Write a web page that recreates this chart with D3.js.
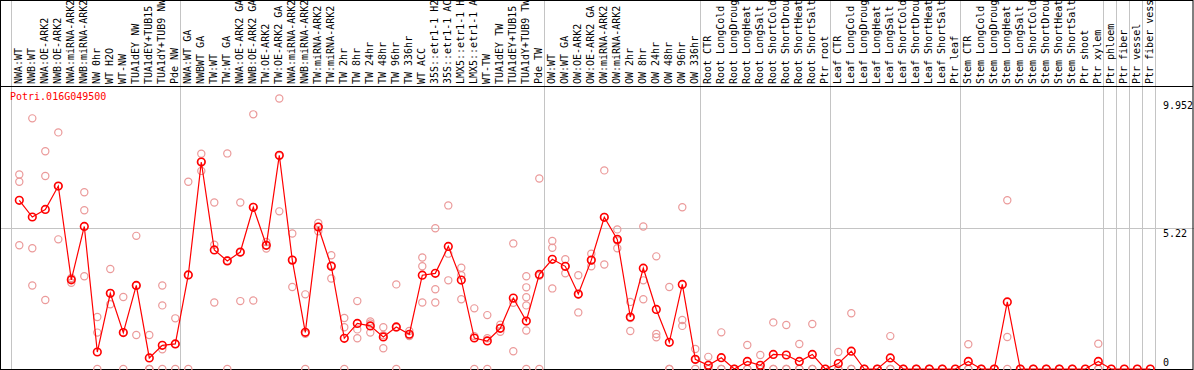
<!DOCTYPE html>
<html>
<head>
<meta charset="utf-8">
<script src="https://cdn.jsdelivr.net/npm/d3@7"></script>
<style>
  body { margin: 0; background: #fff; }
  text { font-family: "DejaVu Sans Mono", monospace; font-size: 10px; }
</style>
</head>
<body>
<div id="chart"></div>
<script>

var title = "Potri.016G049500"

var categories = [
  "NWA:WT", "NWB:WT", "NWA:OE-ARK2", "NWB:OE-ARK2", "NWA:miRNA-ARK2", "NWB:miRNA-ARK2",
  "NW 0hr", "WT H2O", "WT-NW", "TUA1dEY NW", "TUA1dEY+TUB15 NW", "TUA1dY+TUB9 NW", "Pde NW",
  "NWA:WT GA", "NWBWT GA", "TW:WT", "TW:WT GA", "NWA:OE-ARK2 GA", "NWB:OE-ARK2 GA",
  "TW:OE-ARK2", "TW:OE-ARK2 GA", "NWA:miRNA-ARK2 GA", "NWB:miRNA-ARK2 GA", "TW:miRNA-ARK2",
  "TW:miRNA-ARK2 GA", "TW 2hr", "TW 8hr", "TW 24hr", "TW 48hr", "TW 96hr", "TW 336hr",
  "WT ACC", "35S::etr1-1 H2O", "35S::etr1-1 ACC", "LMX5::etr1-1 H2O", "LMX5::etr1-1 ACC",
  "WT-TW", "TUA1dEY TW", "TUA1dEY+TUB15 TW", "TUA1dY+TUB9 TW", "Pde TW",
  "OW:WT", "OW:WT GA", "OW:OE-ARK2", "OW:OE-ARK2 GA", "OW:miRNA-ARK2", "OW:miRNA-ARK2 GA",
  "OW 2hr", "OW 8hr", "OW 24hr", "OW 48hr", "OW 96hr", "OW 336hr",
  "Root CTR", "Root LongCold", "Root LongDrought", "Root LongHeat", "Root LongSalt",
  "Root ShortCold", "Root ShortDrought", "Root ShortHeat", "Root ShortSalt", "Ptr root",
  "Leaf CTR", "Leaf LongCold", "Leaf LongDrought", "Leaf LongHeat", "Leaf LongSalt",
  "Leaf ShortCold", "Leaf ShortDrought", "Leaf ShortHeat", "Leaf ShortSalt", "Ptr leaf",
  "Stem CTR", "Stem LongCold", "Stem LongDrought", "Stem LongHeat", "Stem LongSalt",
  "Stem ShortCold", "Stem ShortDrought", "Stem ShortHeat", "Stem ShortSalt", "Ptr shoot",
  "Ptr xylem", "Ptr phloem", "Ptr fiber", "Ptr vessel", "Ptr fiber vessel"
]

// mean expression per sample (the red line)
var means = [
  6.26, 5.64, 5.92, 6.79, 3.31, 5.29, 0.63, 2.81, 1.35, 3.10, 0.41, 0.88, 0.93,
  3.49, 7.68, 4.42, 4.01, 4.34, 6.00, 4.59, 7.93, 4.04, 1.36, 5.27, 3.81, 1.14, 1.69,
  1.60, 1.19, 1.56, 1.29, 3.48, 3.55, 4.55, 3.30, 1.15, 1.04, 1.51, 2.63, 1.78, 3.51,
  4.07, 3.81, 2.78, 4.04, 5.63, 4.81, 1.93, 3.74, 2.21, 0.99, 3.14, 0.36,
  0.14, 0.42, 0, 0.28, 0.14, 0.54, 0.52, 0.28, 0.54, 0,
  0.20, 0.66, 0, 0, 0.41, 0, 0, 0, 0, 0,
  0.28, 0, 0, 2.49, 0, 0, 0, 0, 0, 0, 0.28,
  0, 0, 0, 0
]

// individual replicates (pink rings)
var replicates = [
  [7.22, 6.95, 4.59], [9.30, 4.48, 3.10], [8.08, 7.16, 2.56], [8.78, 4.81, 6.78],
  [3.38, 3.35, 3.20], [6.56, 5.89, 3.44], [1.93, 1.35, 0], [3.71, 2.40, 2.81],
  [2.67, 1.35, 0], [4.94, 1.26, 3.10], [1.26, 0, 0], [3.10, 2.36, 0.73, 0],
  [1.88, 0, 0.93],
  [6.95, 0, 3.49], [7.99, 7.35, 7.70], [6.18, 4.61, 2.47], [8.00, 0, 4.03],
  [6.18, 2.52, 4.32], [9.45, 2.54, 6.01], [4.59, 4.47, 4.71], [10.04, 5.85, 7.90],
  [5.03, 3.04, 4.05], [2.77, 0, 1.31], [5.42, 5.11, 5.28], [4.22, 3.36, 3.85],
  [1.89, 1.55, 0], [2.52, 1.47, 1.14], [1.76, 1.35, 1.69], [1.55, 0.77, 1.25],
  [3.14, 0, 1.54], [1.41, 1.22, 1.24], [4.14, 3.81, 2.47], [5.22, 2.96, 2.47],
  [6.07, 4.28, 3.29], [3.76, 3.48, 2.59], [2.25, 1.22, 0], [2.00, 1.14, 0],
  [1.64, 1.38, 1.51], [4.66, 2.46, 0.66], [3.44, 3.03, 2.66, 2.36, 1.43, 0],
  [7.07, 0, 3.46],
  [4.75, 4.50, 2.99], [4.07, 3.55, 3.81], [3.48, 2.10, 2.76], [4.28, 3.81, 4.03],
  [7.37, 3.88, 5.64], [5.18, 4.48, 4.77], [2.49, 1.41, 1.89], [5.29, 3.29, 2.59],
  [4.18, 1.30, 1.18], [3.04, 0, 0], [6.00, 1.82, 1.60], [0.74, 0, 0.34],
  [0.45, 0, 0], [1.36, 0, 0], [0, 0, 0], [0.89, 0, 0], [0.52, 0, 0],
  [1.73, 0, 0], [1.63, 0, 0], [0.93, 0, 0], [1.67, 0, 0], [0],
  [0.63, 0, 0], [2.07, 0, 0], [0, 0, 0], [0, 0, 0], [1.22, 0, 0],
  [0, 0, 0], [0, 0, 0], [0, 0, 0], [0, 0, 0], [0],
  [0.92, 0, 0], [0, 0, 0], [0, 0, 0], [6.26, 1.19, 0], [0, 0, 0],
  [0, 0, 0], [0, 0, 0], [0, 0, 0], [0, 0, 0], [0], [0.94, 0, 0],
  [0], [0], [0], [0]
]

// index of the first sample of each block (gray separators)
var separators = [0, 13, 41, 53, 63, 73, 84, 85, 86, 87, 88]

var yLabels = [0, 5.22, 9.952]
var yGrid = [5.22]

var width = 1194, height = 370
var labelBase = 86   // black line under the rotated sample names
var plotRight = 1193

var x = d3.scaleBand()
  .domain(categories)
  .range([11, 11 + 13 * categories.length])

// markers sit a little right of the band centre in the original
var px = function(i) { return x(categories[i]) + 8.3 }

var y = d3.scaleLinear()
  .domain([0, 9.952])
  .range([369, 100.8])

var svg = d3.select("#chart").append("svg")
  .attr("width", width)
  .attr("height", height)

svg.append("rect")
  .attr("width", width).attr("height", height)
  .attr("fill", "#fff")

// block separators, full height
svg.selectAll("line.sep")
  .data(separators)
  .enter().append("line")
  .attr("class", "sep")
  .attr("x1", function(k) { return Math.round(x.range()[0] + k * x.step()) + 0.5 })
  .attr("x2", function(k) { return Math.round(x.range()[0] + k * x.step()) + 0.5 })
  .attr("y1", 0)
  .attr("y2", height)
  .attr("stroke", "#c4c4c4")
  .attr("stroke-width", 1)

svg.selectAll("line.grid")
  .data(yGrid)
  .enter().append("line")
  .attr("class", "grid")
  .attr("x1", 0).attr("x2", width)
  .attr("y1", function(d) { return Math.round(y(d)) + 0.5 })
  .attr("y2", function(d) { return Math.round(y(d)) + 0.5 })
  .attr("stroke", "#c4c4c4")

// frame
svg.append("rect")
  .attr("x", 0.5).attr("y", 0.5)
  .attr("width", plotRight - 0.5)
  .attr("height", 369)
  .attr("fill", "none")
  .attr("stroke", "#000")

svg.append("line")
  .attr("x1", 0).attr("x2", plotRight)
  .attr("y1", labelBase + 0.5).attr("y2", labelBase + 0.5)
  .attr("stroke", "#000")

// sample names, rotated, clipped by the top edge
svg.selectAll("text.cat")
  .data(categories)
  .enter().append("text")
  .attr("class", "cat")
  .attr("transform", function(d) { return "translate(" + (x(d) + 11) + "," + (labelBase - 2) + ") rotate(-90)" })
  .attr("fill", "#000")
  .text(function(d) { return d })

svg.append("text")
  .attr("x", 10)
  .attr("y", 100)
  .attr("fill", "#ff0000")
  .text(title)

svg.selectAll("text.ylab")
  .data(yLabels)
  .enter().append("text")
  .attr("class", "ylab")
  .attr("x", 1163)
  .attr("y", function(d) { return Math.min(y(d) + 8.5, 365.5) })
  .attr("fill", "#000")
  .text(function(d) { return d })

// replicate rings
var repPoints = []
replicates.forEach(function(vals, i) {
  vals.forEach(function(v) { repPoints.push({i: i, v: v}) })
})

svg.selectAll("circle.rep")
  .data(repPoints)
  .enter().append("circle")
  .attr("class", "rep")
  .attr("cx", function(d) { return px(d.i) })
  .attr("cy", function(d) { return y(d.v) })
  .attr("r", 3.6)
  .attr("fill", "none")
  .attr("stroke", "#eb9a9a")
  .attr("stroke-width", 1.2)

var line = d3.line()
  .x(function(d, i) { return px(i) })
  .y(function(d) { return y(d) })

svg.append("path")
  .datum(means)
  .attr("d", line)
  .attr("fill", "none")
  .attr("stroke", "#ff0000")
  .attr("stroke-width", 1.2)

svg.selectAll("circle.mean")
  .data(means)
  .enter().append("circle")
  .attr("class", "mean")
  .attr("cx", function(d, i) { return px(i) })
  .attr("cy", function(d) { return y(d) })
  .attr("r", 3.8)
  .attr("fill", "none")
  .attr("stroke", "#ff0000")
  .attr("stroke-width", 1.6)

</script>
</body>
</html>
